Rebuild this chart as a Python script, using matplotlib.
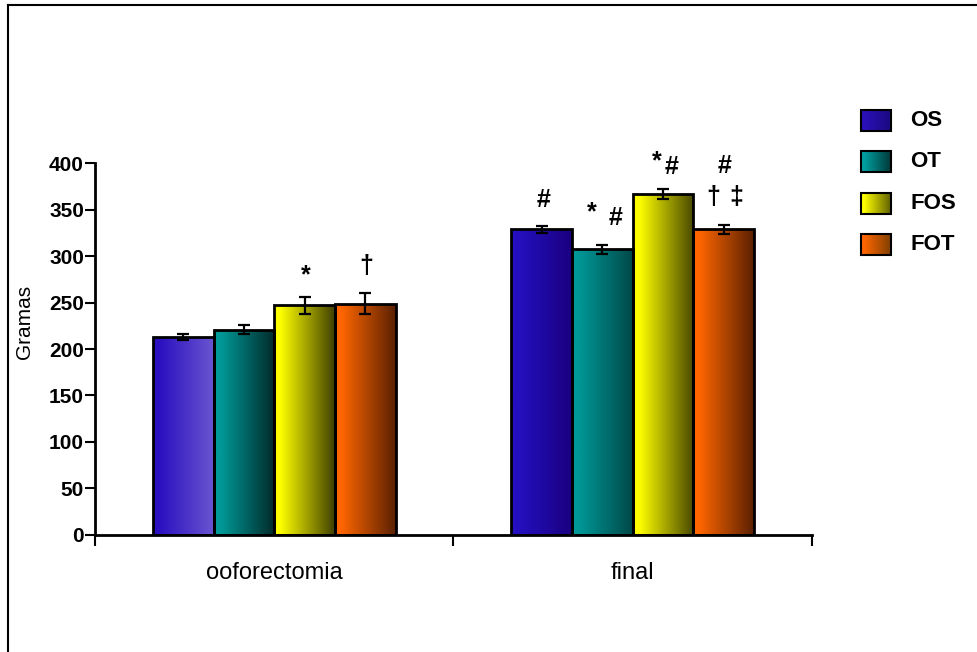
import matplotlib
matplotlib.use("Agg")
import matplotlib.pyplot as plt
import numpy as np
from matplotlib.colors import to_rgb
from matplotlib.patches import Rectangle
from matplotlib.lines import Line2D

plt.rcParams['font.family'] = ['Liberation Sans', 'DejaVu Sans']

# ---- data ----
categories = ["ooforectomia", "final"]
series = ["OS", "OT", "FOS", "FOT"]
means_ooforectomia = [213, 221, 247, 249]
errs_ooforectomia = [3, 5, 9, 11]
means_final = [329, 307.5, 367, 329]
errs_final = [4, 5, 5, 5]
yticks = [0, 50, 100, 150, 200, 250, 300, 350, 400]

# significance marks: (category index, series index, text, dx px, dy px above error bar top)
marks = [
    (0, 2, "*", 1, 14.7),
    (0, 3, "†", 1, 20),
    (1, 0, "#", 2, 18.3),
    (1, 1, "*", -10.8, 25.3),
    (1, 1, "#", 13.2, 20),
    (1, 2, "*", -6.8, 21),
    (1, 2, "#", 8.2, 15.7),
    (1, 3, "#", 0.5, 51.3),
    (1, 3, "†", -10.5, 20.2),
    (1, 3, "‡", 12.5, 20.2),
]

# gradient colour pairs per category (left -> right)
grad_cols = [
    [("#2a10c0", "#6a55d0"), ("#009a98", "#002a2a"), ("#ffff00", "#404000"), ("#ff6600", "#5a2000")],
    [("#2410c0", "#1a0080"), ("#009898", "#004848"), ("#ffff00", "#484800"), ("#ff6600", "#5a2000")],
]
legend_cols = [("#2a10b8", "#1a0a80"), ("#00a0a0", "#003838"), ("#ffff00", "#606000"), ("#ff6600", "#804000")]


def gradient_img(c0, c1, n=256):
    t = np.linspace(0, 1, n)
    t = np.clip((t - 0.1) / 0.9, 0, 1)
    a, b = np.array(to_rgb(c0)), np.array(to_rgb(c1))
    row = a[None, :] * (1 - t[:, None]) + b[None, :] * t[:, None]
    return row[None, :, :]


W, H = 978, 652
fig = plt.figure(figsize=(W / 100, H / 100), dpi=100)

# figure frame (left and top lines)
fig.add_artist(Line2D([8 / W, 8 / W], [0, 1 - 5 / H], color="black", lw=1.5, transform=fig.transFigure))
fig.add_artist(Line2D([8 / W, 1], [1 - 5 / H, 1 - 5 / H], color="black", lw=1.5, transform=fig.transFigure))

ax = fig.add_axes([95 / W, 1 - 534.7 / H, (812 - 95) / W, (534.7 - 163.3) / H])

bw = 61 / 360
all_means = [means_ooforectomia, means_final]
all_errs = [errs_ooforectomia, errs_final]
x = np.arange(len(categories))

for ci in range(len(categories)):
    for si in range(len(series)):
        xc = x[ci] + (si - 1.5) * bw
        m = all_means[ci][si]
        e = all_errs[ci][si]
        bars = ax.bar(xc, m, width=bw, facecolor="none", edgecolor="black", linewidth=2, zorder=3)
        r = bars[0]
        im = ax.imshow(gradient_img(*grad_cols[ci][si]), extent=[xc - bw / 2, xc + bw / 2, 0, m],
                       aspect="auto", zorder=2, interpolation="bilinear")
        im.set_clip_path(r)
        ax.errorbar(xc, m, yerr=e, fmt="none", ecolor="black", elinewidth=1.6, capsize=4.5,
                    capthick=1.6, zorder=4)

for ci, si, txt, dx, dy in marks:
    xc = x[ci] + (si - 1.5) * bw
    top = all_means[ci][si] + all_errs[ci][si]
    ax.annotate(txt, xy=(xc, top), xytext=(dx * 0.72, dy * 0.72), textcoords="offset points",
                ha="center", va="baseline", fontsize=18, fontweight="bold", zorder=5)

ax.set_xlim(-0.5, 1.5)
ax.set_ylim(0, 400)
ax.set_yticks(yticks)
ax.set_yticklabels([str(v) for v in yticks], fontsize=15, fontweight="bold")
ax.set_xticks([-0.5, 0.5, 1.5])
ax.set_xticklabels(["", "", ""])
ax.set_xticks(x, minor=True)
ax.set_xticklabels(categories, minor=True, fontsize=17)
ax.tick_params(axis="x", which="minor", length=0, pad=20)
ax.tick_params(axis="x", which="major", length=8, width=1.5, direction="out")
ax.tick_params(axis="y", length=7, width=1.5, pad=1)
for s in ["top", "right"]:
    ax.spines[s].set_visible(False)
for s in ["left", "bottom"]:
    ax.spines[s].set_linewidth(2)
ax.set_ylabel("Gramas", fontsize=15)
ax.yaxis.set_label_coords((34 - 95) / (812 - 95), (534.7 - 322) / (534.7 - 163.3))
ax.patch.set_visible(False)

# legend drawn in pixel coordinates
lax = fig.add_axes([0, 0, 1, 1], zorder=10)
lax.set_xlim(0, W)
lax.set_ylim(H, 0)
lax.axis("off")
leg_y = [110, 151, 193, 234]
for i, name in enumerate(series):
    y0 = leg_y[i]
    x0 = 861
    lax.imshow(gradient_img(*legend_cols[i]), extent=[x0, x0 + 30, y0 + 21, y0], aspect="auto",
               interpolation="bilinear", zorder=1)
    lax.add_patch(Rectangle((x0, y0), 30, 21, facecolor="none", edgecolor="black", lw=1.5, zorder=2))
    lax.text(910, y0 + 10.5, name, fontsize=16, fontweight="bold", va="center", ha="left")
lax.set_xlim(0, W)
lax.set_ylim(H, 0)

fig.savefig("out.png", dpi=100)
